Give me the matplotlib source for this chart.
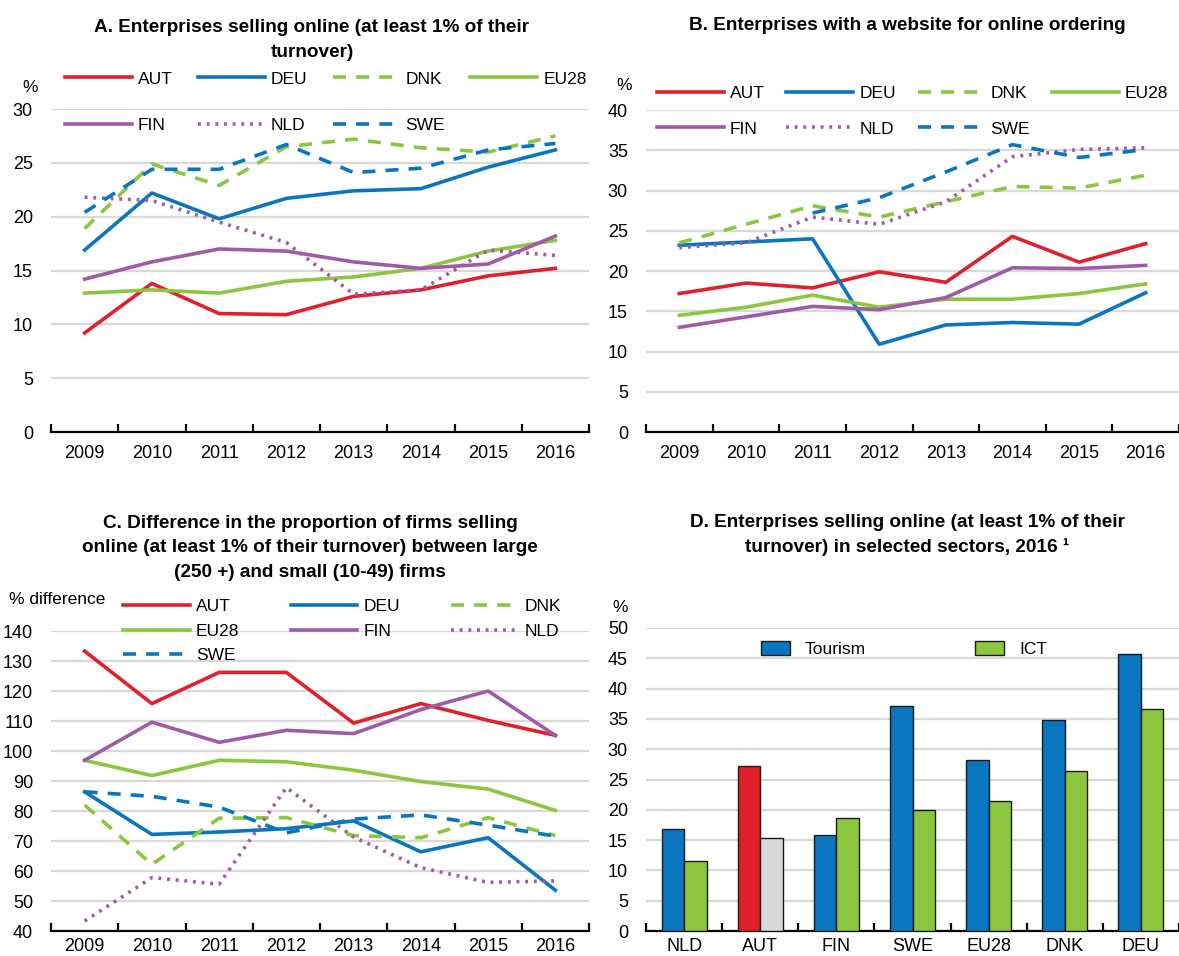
import numpy as np
import matplotlib
matplotlib.use('Agg')
import matplotlib.pyplot as plt
from matplotlib.patches import Patch

plt.rcParams['font.family'] = ['Liberation Sans', 'DejaVu Sans']

years = ['2009', '2010', '2011', '2012', '2013', '2014', '2015', '2016']
countries = ['AUT', 'DEU', 'DNK', 'EU28', 'FIN', 'NLD', 'SWE']

# A. selling online (% of enterprises)
sell_aut = [9.2, 13.8, 11.0, 10.9, 12.6, 13.2, 14.5, 15.2]
sell_deu = [16.9, 22.2, 19.8, 21.7, 22.4, 22.6, 24.6, 26.2]
sell_dnk = [18.9, 24.9, 22.9, 26.5, 27.2, 26.4, 26.0, 27.5]
sell_eu28 = [12.9, 13.2, 12.9, 14.0, 14.4, 15.2, 16.8, 17.8]
sell_fin = [14.2, 15.8, 17.0, 16.8, 15.8, 15.2, 15.6, 18.2]
sell_nld = [21.8, 21.5, 19.5, 17.6, 12.8, 13.2, 16.9, 16.4]
sell_swe = [20.4, 24.4, 24.4, 26.7, 24.1, 24.5, 26.2, 26.8]

# B. website for online ordering
web_aut = [17.2, 18.5, 17.9, 19.9, 18.6, 24.3, 21.1, 23.4]
web_deu = [23.2, 23.6, 24.0, 10.9, 13.3, 13.6, 13.4, 17.3]
web_dnk = [23.5, 25.8, 28.1, 26.7, 28.6, 30.5, 30.3, 31.9]
web_eu28 = [14.5, 15.5, 17.0, 15.5, 16.5, 16.5, 17.2, 18.4]
web_fin = [13.0, 14.3, 15.6, 15.2, 16.7, 20.4, 20.3, 20.7]
web_nld = [22.9, 23.5, 26.7, 25.8, 28.6, 34.2, 35.1, 35.3]
web_swe = [np.nan, np.nan, 27.2, 29.1, 32.3, 35.7, 34.1, 35.1]

# C. difference large vs small firms (% difference)
diff_aut = [133.3, 115.8, 126.2, 126.2, 109.3, 115.8, 110.2, 105.2]
diff_deu = [86.4, 72.2, 73.0, 74.1, 76.7, 66.4, 71.1, 53.6]
diff_dnk = [82.0, 62.2, 77.6, 77.8, 71.8, 71.1, 77.8, 71.8]
diff_eu28 = [96.9, 91.8, 96.9, 96.4, 93.6, 89.8, 87.3, 80.2]
diff_fin = [96.9, 109.6, 102.9, 106.9, 105.8, 113.8, 120.0, 105.2]
diff_nld = [43.3, 57.8, 55.6, 87.8, 71.3, 61.1, 56.2, 56.7]
diff_swe = [86.4, 84.9, 81.3, 72.7, 77.3, 78.7, 75.3, 71.6]

# D. selected sectors, 2016
sector_countries = ['NLD', 'AUT', 'FIN', 'SWE', 'EU28', 'DNK', 'DEU']
tourism = [16.8, 27.2, 15.9, 37.1, 28.2, 34.9, 45.7]
ict = [11.6, 15.4, 18.6, 20.0, 21.5, 26.4, 36.6]

RED = '#e0202b'
BLUE = '#0a76c0'
GREEN = '#8cc63f'
PURPLE = '#a05aa8'
GREY = '#d9d9d9'
GRID = '#d9d9d9'

DASH = (0, (3.6, 2.8))
DOT = (0, (0.8, 1.6))
styles = {
    'AUT': dict(color=RED, ls='-'),
    'DEU': dict(color=BLUE, ls='-'),
    'DNK': dict(color=GREEN, ls=DASH),
    'EU28': dict(color=GREEN, ls='-'),
    'FIN': dict(color=PURPLE, ls='-'),
    'NLD': dict(color=PURPLE, ls=DOT),
    'SWE': dict(color=BLUE, ls=DASH),
}

FS = 13      # tick labels
LFS = 12.5   # legends / axis labels
TFS = 13.7   # titles
W, H = 1179, 956

fig = plt.figure(figsize=(W / 100, H / 100), dpi=100)


def box(l, r, b, t):
    return [l / W, 1 - b / H, (r - l) / W, (b - t) / H]


def fpos(x, y):
    return (x / W, 1 - y / H)


def style_axes(ax, n, ylim, yticks, xpad=9):
    ax.set_xlim(-0.5, n - 0.5)
    ax.set_ylim(*ylim)
    ax.set_yticks(yticks)
    ax.yaxis.grid(True, color=GRID, lw=1.6)
    ax.set_axisbelow(True)
    for s in ['left', 'right', 'top']:
        ax.spines[s].set_visible(False)
    ax.spines['bottom'].set_linewidth(1.6)
    ax.set_xticks(np.arange(n))
    ax.set_xticks(np.arange(n + 1) - 0.5, minor=True)
    ax.tick_params(axis='x', which='major', length=0, labelsize=FS, pad=xpad)
    ax.tick_params(axis='x', which='minor', direction='in', length=6, width=1.6)
    ax.tick_params(axis='y', length=0, labelsize=FS, pad=13)


def line_panel(ax, data, ylim, yticks, order, xpad=9):
    x = np.arange(len(years))
    lines = {}
    for name, vals in zip(countries, data):
        lines[name], = ax.plot(x, vals, lw=2.6, label=name, **styles[name])
    style_axes(ax, len(years), ylim, yticks, xpad)
    ax.set_xticklabels(years)
    return [lines[k] for k in order]


# legend entries fill column by column, so reorder to read row by row
order4 = ['AUT', 'FIN', 'DEU', 'NLD', 'DNK', 'SWE', 'EU28']
order3 = ['AUT', 'EU28', 'SWE', 'DEU', 'FIN', 'DNK', 'NLD']
leg_kw = dict(frameon=False, fontsize=LFS, handlelength=3.85, handletextpad=0.35,
              borderpad=0, borderaxespad=0, bbox_transform=fig.transFigure, loc='center left')

axA = fig.add_axes(box(51, 589, 432, 109))
h = line_panel(axA, [sell_aut, sell_deu, sell_dnk, sell_eu28, sell_fin, sell_nld, sell_swe],
               (0, 30), range(0, 31, 5), order4)
axA.legend(handles=h, ncol=4, bbox_to_anchor=fpos(65, 102), columnspacing=1.45,
           labelspacing=1.78, **leg_kw)
fig.text(*fpos(30, 87), '%', fontsize=LFS, ha='center', va='center')
fig.text(*fpos(312, 40), 'A. Enterprises selling online (at least 1% of their\nturnover)',
         fontsize=TFS, fontweight='bold', ha='center', va='center', linespacing=1.55)

axB = fig.add_axes(box(646, 1179, 432, 110))
h = line_panel(axB, [web_aut, web_deu, web_dnk, web_eu28, web_fin, web_nld, web_swe],
               (0, 40), range(0, 41, 5), order4)
axB.legend(handles=h, ncol=4, bbox_to_anchor=fpos(657, 111), columnspacing=1.25,
           labelspacing=1.2, **leg_kw)
fig.text(*fpos(624, 86), '%', fontsize=LFS, ha='center', va='center')
fig.text(*fpos(907, 26), 'B. Enterprises with a website for online ordering',
         fontsize=TFS, fontweight='bold', ha='center', va='center')

axC = fig.add_axes(box(51, 589, 931, 631))
h = line_panel(axC, [diff_aut, diff_deu, diff_dnk, diff_eu28, diff_fin, diff_nld, diff_swe],
               (40, 140), range(40, 141, 10), order3, xpad=5)
axC.legend(handles=h, ncol=3, bbox_to_anchor=fpos(123, 631), columnspacing=2.95,
           labelspacing=0.54, **leg_kw)
fig.text(*fpos(9, 600), '% difference', fontsize=LFS, ha='left', va='center')
fig.text(*fpos(310, 548),
         'C. Difference in the proportion of firms selling\n'
         'online (at least 1% of their turnover) between large\n'
         '(250 +) and small (10-49) firms',
         fontsize=TFS, fontweight='bold', ha='center', va='center', linespacing=1.55)

axD = fig.add_axes(box(646, 1179, 931, 628))
xd = np.arange(len(sector_countries))
bw = 0.296
t_colors = [RED if c == 'AUT' else BLUE for c in sector_countries]
i_colors = [GREY if c == 'AUT' else GREEN for c in sector_countries]
axD.bar(xd - bw / 2, tourism, bw, color=t_colors, edgecolor='#1a1a1a', lw=1.0, zorder=3)
axD.bar(xd + bw / 2, ict, bw, color=i_colors, edgecolor='#1a1a1a', lw=1.0, zorder=3)
style_axes(axD, len(sector_countries), (0, 50), range(0, 51, 5), xpad=5)
axD.set_xticklabels(sector_countries)
handles = [Patch(facecolor=BLUE, edgecolor='#1a1a1a', lw=1.0, label='Tourism'),
           Patch(facecolor=GREEN, edgecolor='#1a1a1a', lw=1.0, label='ICT')]
axD.legend(handles=handles, loc='center left', bbox_to_anchor=fpos(761, 649),
           bbox_transform=fig.transFigure, ncol=2, frameon=False, fontsize=LFS,
           handlelength=1.67, handleheight=0.86, handletextpad=0.86, columnspacing=6.28,
           borderpad=0, borderaxespad=0)
fig.text(*fpos(620, 607), '%', fontsize=LFS, ha='center', va='center')
fig.text(*fpos(907, 535),
         'D. Enterprises selling online (at least 1% of their\nturnover) in selected sectors, 2016 \u00b9',
         fontsize=TFS, fontweight='bold', ha='center', va='center', linespacing=1.55)

fig.savefig('out.png', dpi=100)
